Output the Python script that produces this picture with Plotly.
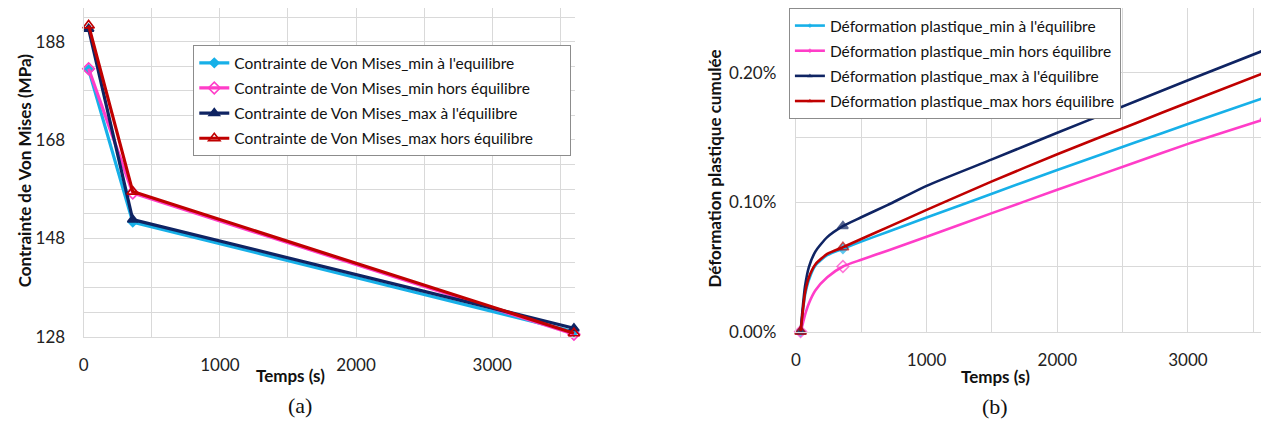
import plotly.graph_objects as go

# ---------------- Data: panel (a) Von Mises stress ----------------
time_a = [36, 360, 3600]
vm_min_eq = [182.3, 151.3, 129.0]
vm_min_hors = [182.5, 157.2, 128.5]
vm_max_eq = [190.6, 151.8, 129.7]
vm_max_hors = [191.3, 157.5, 128.7]

# ---------------- Data: panel (b) cumulated plastic strain (%) ----------------
time_b = [36, 50, 70, 100, 150, 240, 360, 500, 700, 1000, 1500, 2000, 2600, 3000, 3600]
marked_b = [True, False, False, False, False, False, True, False, False, False, False, False, False, False, True]
ep_min_eq = [0.0, 0.013, 0.028, 0.040, 0.051, 0.059, 0.064, 0.0695, 0.077, 0.0881, 0.1065, 0.1249, 0.1462, 0.1603, 0.1812]
ep_min_hors = [0.0, 0.005, 0.013, 0.022, 0.032, 0.042, 0.0503, 0.0555, 0.0625, 0.0733, 0.0915, 0.1095, 0.1308, 0.1450, 0.1645]
ep_max_eq = [0.0, 0.016, 0.035, 0.050, 0.062, 0.073, 0.0815, 0.0883, 0.0977, 0.1126, 0.1330, 0.1536, 0.1779, 0.1941, 0.2180]
ep_max_hors = [0.0, 0.013, 0.030, 0.042, 0.052, 0.060, 0.0652, 0.0715, 0.0805, 0.0940, 0.1160, 0.1370, 0.1610, 0.1770, 0.2005]

NB = "\u00a0" * 8
labels_a = ["Contrainte de Von Mises_min à l'equilibre",
            "Contrainte de Von Mises_min hors équilibre",
            "Contrainte de Von Mises_max à l'équilibre",
            "Contrainte de Von Mises_max hors équilibre"]
labels_b = ["Déformation plastique_min à l'équilibre",
            "Déformation plastique_min hors équilibre",
            "Déformation plastique_max à l'équilibre",
            "Déformation plastique_max hors équilibre"]

CYAN, PINK, NAVY, RED = "#17B0E8", "#FF3DC8", "#0F2463", "#C00000"
styles = [
    (CYAN, "diamond", 7),
    (PINK, "diamond-open", 9),
    (NAVY, "triangle-up", 9),
    (RED, "triangle-up-open", 10),
]

# page body margin and observed vertical scale of the photographed page
OFF = 8
SY = 0.975
W, H = 1269 - OFF, 421
FONT = "Lato"


def px_x(p):
    return min(1.0, max(0.0, (p - OFF) / W))


def px_y(p):
    return min(1.0, max(0.0, 1 - (p / SY - OFF) / H))


fig = go.Figure()

# panel (a)
for i, (ys, lab) in enumerate(zip([vm_min_eq, vm_min_hors, vm_max_eq, vm_max_hors], labels_a)):
    col, sym, ms = styles[i]
    fig.add_trace(go.Scatter(
        x=time_a, y=ys, name=lab + NB, mode="lines+markers",
        line=dict(color=col, width=3.2),
        marker=dict(symbol=sym, size=ms, color=col, line=dict(color=col, width=1.6)),
        xaxis="x", yaxis="y", legend="legend", legendgroup="a%d" % i,
        cliponaxis=False,
    ))

# panel (b)
for i, (ys, lab) in enumerate(zip([ep_min_eq, ep_min_hors, ep_max_eq, ep_max_hors], labels_b)):
    col, sym, ms = styles[i]
    sz = [ms if m else 0 for m in marked_b]
    fig.add_trace(go.Scatter(
        x=time_b, y=[v / 100.0 for v in ys], name=lab, mode="lines+markers",
        line=dict(color=col, width=2.6, shape="spline", smoothing=0.6),
        marker=dict(symbol=sym, size=sz, color=col, line=dict(color=col, width=1.6)),
        xaxis="x2", yaxis="y2", legend="legend2", legendgroup="b%d" % i,
        cliponaxis=False,
    ))

GRID = "#D9D9D9"
tickfont = dict(family=FONT, size=17, color="#222222")
common = dict(showgrid=True, gridcolor=GRID, gridwidth=1.3, showline=True, linecolor=GRID,
              linewidth=1.3, zeroline=False, ticks="", tickfont=tickfont)

fig.update_layout(
    width=W, height=H,
    margin=dict(l=0, r=0, t=0, b=0),
    paper_bgcolor="white", plot_bgcolor="white",
    font=dict(family=FONT, color="#222222"),
    xaxis=dict(domain=[px_x(79), px_x(572)], range=[0, 3606], tick0=0, dtick=1000,
               minor=dict(dtick=500, tick0=0, showgrid=True, gridcolor=GRID, gridwidth=1.3),
               ticklabelstandoff=13, anchor="y", **common),
    yaxis=dict(domain=[px_y(336), px_y(8)], range=[128, 194.8], tick0=128, dtick=20,
               minor=dict(dtick=5, tick0=128, showgrid=True, gridcolor=GRID, gridwidth=1.3),
               ticklabelstandoff=14, anchor="x", **common),
    xaxis2=dict(domain=[px_x(794), 1.0], range=[0, 3620], tick0=0, dtick=1000,
                minor=dict(dtick=500, tick0=0, showgrid=True, gridcolor=GRID, gridwidth=1.3),
                ticklabelstandoff=13, anchor="y2", **common),
    yaxis2=dict(domain=[px_y(331), px_y(8)], range=[0, 0.002498], tick0=0, dtick=0.001,
                tickformat=".2%",
                minor=dict(dtick=0.0005, tick0=0, showgrid=True, gridcolor=GRID, gridwidth=1.3),
                ticklabelstandoff=15, anchor="x2", **common),
    legend=dict(x=px_x(189), y=px_y(45), xanchor="left", yanchor="top",
                bgcolor="white", bordercolor="#8C8C8C", borderwidth=1,
                font=dict(family=FONT, size=15.5, color="#111111"),
                tracegroupgap=2, itemwidth=30),
    legend2=dict(x=px_x(787), y=px_y(6), xanchor="left", yanchor="top",
                 bgcolor="white", bordercolor="#8C8C8C", borderwidth=1,
                 font=dict(family=FONT, size=15.5, color="#111111"),
                 tracegroupgap=2, itemwidth=30),
    showlegend=True,
)

ann_title = dict(family=FONT, size=17, color="#111111")
annotations = [
    dict(text="<b>Contrainte de Von Mises (MPa)</b>", x=px_x(19), y=px_y(170), textangle=-90,
         font=ann_title),
    dict(text="<b>Temps (s)</b>", x=px_x(287), y=px_y(375), font=ann_title),
    dict(text="<b>Déformation plastique cumulée</b>", x=px_x(712), y=px_y(168), textangle=-90,
         font=ann_title),
    dict(text="<b>Temps (s)</b>", x=px_x(994), y=px_y(376), font=ann_title),
    dict(text="(a)", x=px_x(296), y=px_y(405),
         font=dict(family="Liberation Serif", size=22, color="#111111")),
    dict(text="(b)", x=px_x(994), y=px_y(406),
         font=dict(family="Liberation Serif", size=22, color="#111111")),
]
for a in annotations:
    a.update(xref="paper", yref="paper", showarrow=False, xanchor="center", yanchor="middle")
fig.update_layout(annotations=annotations)

fig.write_html("out.html")
